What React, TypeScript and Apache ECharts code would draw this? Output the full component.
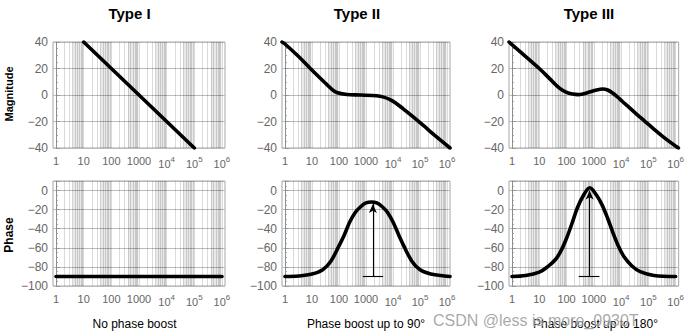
import React, { useEffect, useRef } from "react";
import * as echarts from "echarts";

// ---------- data ----------
const decadeExps = [0, 1, 2, 3, 4, 5, 6];
const yMagTicks = [-40, -20, 0, 20, 40];
const yPhaseTicks = [-100, -80, -60, -40, -20, 0];
const titles = ["Type I", "Type II", "Type III"];
const captions = ["No phase boost", "Phase boost up to 90°", "Phase boost up to 180°"];

// Type I magnitude (integrator, -20 dB/dec)
const t1MagW = [10, 100000];
const t1MagV = [40, -40];
// Type I phase
const t1PhW = [1, 1000000];
const t1PhV = [-90, -90];

// Type II magnitude
const t2MagW = [0.78, 1, 3.2, 8.7, 27, 50, 83, 195, 630, 2500, 4500, 7800, 12600, 24000, 56000, 132000, 400000, 1290000];
const t2MagV = [40, 38.5, 29, 20, 10.2, 5, 1.9, 0.4, 0, -0.6, -1.6, -3.4, -6, -10.5, -16.5, -23, -31.5, -40];
// Type II phase
const t2PhW = [1, 3.2, 10, 25, 50, 100, 160, 250, 400, 630, 1000, 1600, 2500, 4000, 6300, 10000, 16000, 25000, 50000, 100000, 250000, 800000, 1290000];
const t2PhV = [-90, -89.5, -87.5, -83, -74, -58, -46, -33, -23, -17, -13, -12, -13, -17, -23, -33, -46, -58, -74, -83, -87.5, -89.5, -90];

// Type III magnitude
const t3MagW = [0.78, 1, 3.2, 10, 25, 55, 100, 170, 260, 400, 690, 1260, 2100, 3200, 4900, 7400, 11200, 20000, 35000, 71000, 141000, 400000, 1260000];
const t3MagV = [40, 38, 29, 20, 12, 5.2, 2, 0.7, 0.3, 0.8, 2.2, 3.8, 4.5, 3.8, 1.5, -1.5, -4.9, -9.5, -14, -19.5, -24.8, -32.5, -40];
// Type III phase
const t3PhW = [1, 3.2, 10, 20, 40, 63, 100, 160, 250, 400, 710, 1260, 2000, 3200, 5000, 7900, 12600, 25000, 50000, 160000, 1000000];
const t3PhV = [-90, -89, -85.5, -80, -72, -63, -50, -34, -18, -6, 3, -5, -15, -29, -44, -58, -69, -79, -85, -89, -90];

// Phase boost arrows: [x, base, tip], bar [lo, hi]
const t2Arrow = [1800, -90, -14];
const t2Bar = [760, 4300];
const t3Arrow = [700, -90, 0];
const t3Bar = [280, 1600];

// log-grid line multipliers within a decade
const gridMults = [1, 2, 3, 4, 5, 6, 7, 8, 9];
const bandMults = [4, 9.6];

// ---------- helpers ----------
const lg = (v: number) => Math.log10(v);
const pts = (w: number[], v: number[]) => w.map((x, i) => [lg(x), v[i]]);

const FONT = "'Liberation Sans', Arial, sans-serif";

export default function App() {
  const ref = useRef<HTMLDivElement>(null);
  useEffect(() => {
    if (!ref.current) return;
    const chart = echarts.init(ref.current, null, { renderer: "svg" });

    const lefts = [53, 282, 509];
    const widths = [172, 168, 171];
    const grids: any[] = [];
    for (let r = 0; r < 2; r++) {
      for (let c = 0; c < 3; c++) {
        grids.push({
          left: lefts[c],
          width: widths[c],
          top: r === 0 ? 42 : 181,
          height: r === 0 ? 106 : 105,
          show: true,
          borderColor: "#a6a6a6",
          borderWidth: 1,
          containLabel: false,
        });
      }
    }

    const xLabelFmt = (v: number) => {
      const e = Math.round(v);
      if (e === 0) return "1";
      if (e === 1) return "10";
      if (e === 2) return "100";
      if (e === 3) return "1000";
      return `{b|10}{s|${e}}`;
    };

    const LABEL = "#666666";
    const xAxes = grids.map((_, i) => ({
      gridIndex: i,
      type: "value",
      min: -0.11,
      max: 6.11,
      axisLine: { show: false },
      axisTick: { show: false },
      splitLine: { show: false },
      axisLabel: {
        customValues: decadeExps,
        formatter: xLabelFmt,
        color: LABEL,
        fontSize: 11,
        fontFamily: FONT,
        margin: 7,
        rich: {
          b: { fontSize: 11, color: LABEL, fontFamily: FONT, verticalAlign: "bottom" },
          s: { fontSize: 8, color: LABEL, fontFamily: FONT, verticalAlign: "bottom", padding: [0, 0, 6, 0] },
        },
      },
    }));

    const yFmt = (v: number) => (v < 0 ? "\u2212" + Math.abs(v) : String(v));
    const yAxes = grids.map((_, i) => {
      const mag = i < 3;
      return {
        gridIndex: i,
        type: "value",
        min: mag ? yMagTicks[0] : yPhaseTicks[0],
        max: mag ? yMagTicks[yMagTicks.length - 1] : 10,
        interval: 20,
        axisLine: { show: true, lineStyle: { color: "#a6a6a6" } },
        axisTick: { show: true, inside: true, length: 4, lineStyle: { color: "#999" } },
        minorTick: { show: true, splitNumber: 4, length: 2, lineStyle: { color: "#aaa" } },
        splitLine: { show: true, lineStyle: { color: "#bbbbbb", width: 1 } },
        axisLabel: {
          formatter: mag ? yFmt : (v: number) => (v > 0 ? "" : yFmt(v)),
          color: LABEL,
          fontSize: 12,
          fontFamily: FONT,
          margin: 5,
        },
      };
    });

    const series: any[] = [];
    // log grid (vertical lines and shaded dense bands)
    for (let i = 0; i < 6; i++) {
      const lines: any[] = [];
      const bands: any[] = [];
      for (let k = 0; k <= 5; k++) {
        gridMults.forEach((m) => lines.push({ xAxis: lg(m * Math.pow(10, k)) }));
        bands.push([{ xAxis: lg(bandMults[0] * Math.pow(10, k)) }, { xAxis: lg(bandMults[1] * Math.pow(10, k)) }]);
      }
      lines.push({ xAxis: 6 });
      series.push({
        type: "line",
        xAxisIndex: i,
        yAxisIndex: i,
        data: [],
        silent: true,
        z: 1,
        markArea: {
          silent: true,
          itemStyle: { color: "rgba(0,0,0,0.085)" },
          label: { show: false },
          data: bands,
        },
        markLine: {
          silent: true,
          symbol: "none",
          label: { show: false },
          lineStyle: { color: "rgba(0,0,0,0.14)", width: 1, type: "solid" },
          data: lines,
        },
      });
    }

    const curve = (i: number, data: number[][], extra: any = {}) => ({
      type: "line",
      xAxisIndex: i,
      yAxisIndex: i,
      data,
      showSymbol: false,
      smooth: 0.35,
      z: 5,
      clip: true,
      silent: true,
      lineStyle: { color: "#000", width: 3.6, cap: "round" },
      ...extra,
    });

    const arrowMark = (arrow: number[], bar: number[]) => ({
      silent: true,
      symbol: ["none", "arrow"],
      symbolSize: [6, 9],
      label: { show: false },
      lineStyle: { color: "#000", width: 1.1, type: "solid" },
      data: [
        [{ coord: [lg(arrow[0]), arrow[1]] }, { coord: [lg(arrow[0]), arrow[2]] }],
        [
          { coord: [lg(bar[0]), arrow[1]], symbol: "none" },
          { coord: [lg(bar[1]), arrow[1]], symbol: "none" },
        ],
      ],
    });

    series.push(curve(0, pts(t1MagW, t1MagV), { smooth: false }));
    series.push(curve(1, pts(t2MagW, t2MagV)));
    series.push(curve(2, pts(t3MagW, t3MagV)));
    series.push(curve(3, pts(t1PhW, t1PhV), { smooth: false }));
    series.push(curve(4, pts(t2PhW, t2PhV), { markLine: arrowMark(t2Arrow, t2Bar) }));
    series.push(curve(5, pts(t3PhW, t3PhV), { markLine: arrowMark(t3Arrow, t3Bar) }));

    const titleX = [129.5, 357, 589];
    const captionX = [134.5, 366, 595.5];
    const graphic: any[] = [];
    titles.forEach((t, i) =>
      graphic.push({
        type: "text",
        x: titleX[i],
        y: 13,
        style: { text: t, fontSize: 15, fontWeight: "bold", fontFamily: FONT, fill: "#000", align: "center", verticalAlign: "middle" },
      })
    );
    captions.forEach((t, i) =>
      graphic.push({
        type: "text",
        x: captionX[i],
        y: 324,
        style: { text: t, fontSize: 12, fontFamily: FONT, fill: "#000", align: "center", verticalAlign: "middle" },
      })
    );
    graphic.push({
      type: "text",
      x: 9,
      y: 94,
      rotation: Math.PI / 2,
      style: { text: "Magnitude", fontSize: 11, fontWeight: "bold", fontFamily: FONT, fill: "#000", align: "center", verticalAlign: "middle" },
    });
    graphic.push({
      type: "text",
      x: 9,
      y: 235,
      rotation: Math.PI / 2,
      style: { text: "Phase", fontSize: 12, fontWeight: "bold", fontFamily: FONT, fill: "#000", align: "center", verticalAlign: "middle" },
    });
    graphic.push({
      type: "text",
      x: 433,
      y: 320,
      z: 100,
      style: {
        text: "CSDN @less is more_0930T",
        fontSize: 16,
        fontFamily: FONT,
        fill: "rgba(140,140,140,0.75)",
        stroke: "rgba(255,255,255,0.5)",
        lineWidth: 1,
        align: "left",
        verticalAlign: "middle",
      },
    });

    chart.setOption({
      animation: false,
      backgroundColor: "#fff",
      textStyle: { fontFamily: FONT },
      grid: grids,
      xAxis: xAxes,
      yAxis: yAxes,
      series,
      graphic,
    });
    return () => chart.dispose();
  }, []);

  return (
    <div
      ref={ref}
      style={{ position: "absolute", left: 0, top: 0, width: 687, height: 335 }}
    />
  );
}
